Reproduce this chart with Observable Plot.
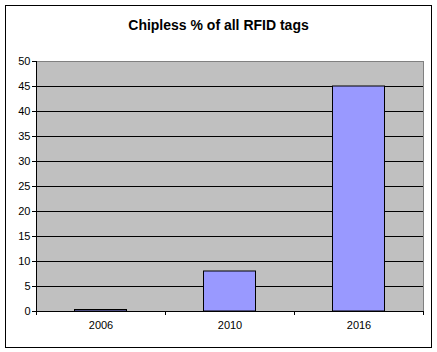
<!DOCTYPE html>
<html>
<head>
<meta charset="utf-8">
<script src="https://cdn.jsdelivr.net/npm/d3@7"></script>
<script src="https://cdn.jsdelivr.net/npm/@observablehq/plot@0.6"></script>
<style>
  html, body { margin: 0; padding: 0; background: #fff; }
</style>
</head>
<body>
<div id="chart"></div>
<script>
const title = "Chipless % of all RFID tags";
const years = ["2006", "2010", "2016"];
const values = [0.3, 8, 45];
const yTicks = [0, 5, 10, 15, 20, 25, 30, 35, 40, 45, 50];
const gridTicks = [5, 10, 15, 20, 25, 30, 35, 40, 45];

const data = years.map((y, i) => ({year: y, value: values[i]}));
const half = 64.5;

const chart = Plot.plot({
  width: 437,
  height: 352,
  marginLeft: 36,
  marginRight: 14,
  marginTop: 61,
  marginBottom: 41,
  style: {fontFamily: "'Liberation Sans', Arial, sans-serif", fontSize: "11px", background: "#fff", color: "#000"},
  x: {type: "band", domain: years, padding: 0, label: null},
  y: {domain: [0, 50], label: null},
  marks: [
    Plot.frame({fill: "#c0c0c0", stroke: "#808080"}),
    Plot.frame({stroke: "#000", insetLeft: -31, insetRight: -8, insetTop: -56, insetBottom: -36}),
    Plot.ruleY(gridTicks, {stroke: "#000", strokeWidth: 1}),
    Plot.barY(data, {x: "year", y: "value", fill: "#9999ff", stroke: "#000", strokeWidth: 1, insetLeft: 38.5, insetRight: 38.5}),
    Plot.frame({anchor: "left", stroke: "#000"}),
    Plot.frame({anchor: "bottom", stroke: "#000"}),
    Plot.axisY({ticks: yTicks, tickSize: 4, tickPadding: 2, tickFormat: d => String(d), label: null}),
    Plot.axisX({tickSize: 0, tickPadding: 10, label: null}),
    Plot.axisX({tickSize: 4, tickFormat: () => "", dx: -half, label: null}),
    Plot.axisX({ticks: [years[years.length - 1]], tickSize: 4, tickFormat: () => "", dx: half, label: null}),
    Plot.text([title], {frameAnchor: "top", dy: -36, dx: -11.5, text: d => d, fontSize: 14, fontWeight: "bold", fill: "#000", lineAnchor: "middle"})
  ]
});
document.getElementById("chart").append(chart);
</script>
</body>
</html>
